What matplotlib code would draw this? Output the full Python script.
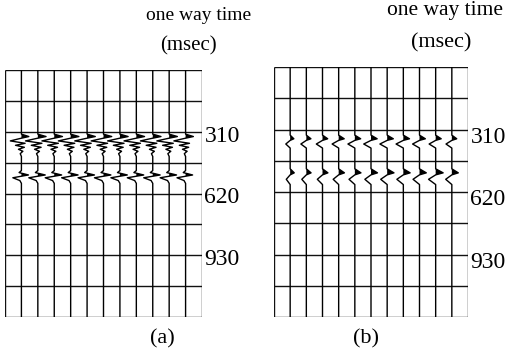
import matplotlib.pyplot as plt

plt.rcParams['font.family'] = ['Liberation Serif', 'DejaVu Serif']

# time lines of the display (msec), labelled every other one
row_times = [0, 155, 310, 465, 620, 775, 930, 1085, 1240]
label_times = [310, 620, 930]
label_text = ["310", "620", "930"]
n_cols = 12
trace_x = [1, 2, 3, 4, 5, 6, 7, 8, 9, 10, 11]

# wavelets: onset time (msec), offsets (msec), amplitudes (trace spacings)
# panel (a): ringing first reflection and a sharp second one
a1_start = 322
a1_dt = [0, 12, 22, 34, 46, 56, 66, 76, 86, 98, 112]
a1_amp = [0, 0.5, -0.1, -0.75, 0.25, -0.4, 0.2, -0.2, 0.1, -0.08, 0]
a1_gain = [0.9, 1.0, 1.0, 1.0, 1.0, 1.0, 1.0, 1.0, 1.0, 1.0, 0.95]

a2_start = 505
a2_dt = [0, 10, 22, 36, 50, 64]
a2_amp = [0, -0.15, 0.45, -0.55, -0.1, 0]
a2_gain = [0.95, 1.0, 1.0, 1.0, 1.0, 1.0, 1.0, 1.0, 1.0, 1.0, 0.95]

# panel (b): two simple reflections
b1_start = 338
b1_dt = [0, 18, 26, 44, 64]
b1_amp = [0, 0.38, 0.0, -0.45, 0]
b1_gain = [0.6, 0.75, 0.85, 0.9, 0.95, 1.0, 1.0, 1.0, 0.95, 0.9, 0.8]

b2_start = 505
b2_dt = [0, 20, 30, 52, 78]
b2_amp = [0, 0.42, 0, -0.4, 0]
b2_gain = [0.6, 0.7, 0.8, 0.85, 0.9, 0.95, 1.0, 1.0, 1.0, 1.1, 0.95]


def draw_panel(ax, events, tag, tag_x, label_shift):
    ax.set_xlim(0, n_cols)
    ax.set_ylim(row_times[-1], row_times[0])
    ax.axis('off')
    ax.hlines(row_times, 0, n_cols, color='#111111', lw=1.0)
    ax.vlines([0, n_cols], row_times[0], row_times[-1], color='#111111', lw=1.0)

    for i, x0 in enumerate(trace_x):
        ts = [row_times[0]]
        xs = [x0]
        for start, dt, amp, gain in events:
            for d, a in zip(dt, amp):
                ts.append(start + d)
                xs.append(x0 + a * gain[i])
        ts.append(row_times[-1])
        xs.append(x0)
        ax.plot(xs, ts, color='black', lw=1.0)
        ax.fill_betweenx(ts, x0, xs, where=[x > x0 for x in xs],
                         interpolate=True, color='black', lw=0)

    for t, s in zip(label_times, label_text):
        ax.text(n_cols + 0.15, t + label_shift, s, fontsize=17, ha='left',
                va='center', clip_on=False)
    ax.text(tag_x, 1240 + 110, tag, fontsize=16, ha='center', va='center',
            clip_on=False)


fig = plt.figure(figsize=(5.16, 3.53), dpi=100)

ax_a = fig.add_axes([5 / 516, 36 / 353, 197 / 516, 247 / 353])
draw_panel(ax_a, [(a1_start, a1_dt, a1_amp, a1_gain),
                  (a2_start, a2_dt, a2_amp, a2_gain)], "(a)", 9.6, 22)

ax_b = fig.add_axes([274 / 516, 36 / 353, 194 / 516, 250 / 353])
draw_panel(ax_b, [(b1_start, b1_dt, b1_amp, b1_gain),
                  (b2_start, b2_dt, b2_amp, b2_gain)], "(b)", 5.7, 38)

fig.text(199 / 516, 1 - 16 / 353, "one way time", fontsize=14,
         ha='center', va='center')
fig.text(188 / 516, 1 - 46 / 353, "(msec)", fontsize=15,
         ha='center', va='center')
fig.text(445 / 516, 1 - 11 / 353, "one way time", fontsize=15.5,
         ha='center', va='center')
fig.text(441 / 516, 1 - 43 / 353, "(msec)", fontsize=16,
         ha='center', va='center')

fig.savefig("out.png", dpi=100)
